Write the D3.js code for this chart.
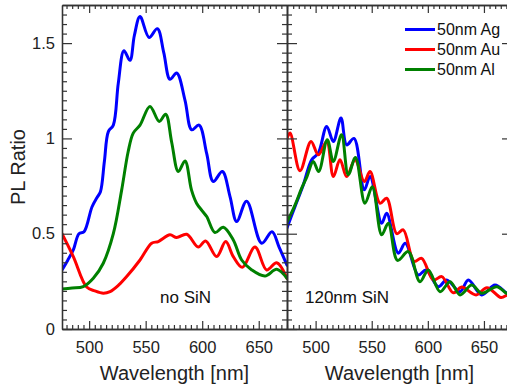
<!DOCTYPE html>
<html><head><meta charset="utf-8">
<script src="https://cdn.jsdelivr.net/npm/d3@7"></script>
<style>
body{margin:0;background:#fff;}
svg{display:block;font-family:"Liberation Sans",Arial,sans-serif;}
</style></head>
<body>
<svg id="chart" width="507" height="386"></svg>
<script>
// ---------- DATA ----------
const seriesNames = ["50nm Ag", "50nm Au", "50nm Al"];
const seriesColors = ["#0000ff", "#ff0000", "#008000"];
const panelLabels = ["no SiN", "120nm SiN"];
const xTickValues = [500, 550, 600, 650];
const yTickValues = [0, 0.5, 1, 1.5];
const yTickLabels = ["0", "0.5", "1", "1.5"];

// Panel 1: no SiN
const noSiN_Ag_wl = [476, 481, 486, 491, 495.5, 502.5, 507, 510, 513.5, 517, 521.4, 525.8, 530.8, 536.1, 540, 545, 553, 560.3, 566, 571.5, 577.4, 584.8, 590.7, 597.2, 604, 609.8, 617.8, 624.6, 630.5, 639.3, 652.6, 661.7, 668, 675];
const noSiN_Ag    = [0.31, 0.36, 0.415, 0.50, 0.51, 0.64, 0.69, 0.72, 0.88, 1.036, 1.07, 1.29, 1.46, 1.41, 1.54, 1.64, 1.53, 1.576, 1.45, 1.31, 1.343, 1.20, 1.045, 1.07, 0.92, 0.774, 0.826, 0.695, 0.564, 0.67, 0.45, 0.51, 0.43, 0.335];
const noSiN_Au_wl = [476, 486, 497.8, 505, 512.5, 518.5, 526, 533.2, 545, 555.3, 561.2, 571.5, 577.4, 586.3, 596.5, 603, 612.8, 620.8, 627.5, 635.5, 646.7, 657, 665.9, 675];
const noSiN_Au    = [0.50, 0.38, 0.22, 0.20, 0.188, 0.196, 0.23, 0.275, 0.362, 0.45, 0.459, 0.494, 0.48, 0.497, 0.43, 0.462, 0.38, 0.459, 0.38, 0.324, 0.43, 0.31, 0.348, 0.266];
const noSiN_Al_wl = [476, 485, 494.8, 503.7, 512.5, 521.4, 528.8, 534.5, 539, 545, 553.8, 562, 567.7, 573, 578.9, 584.8, 590.5, 595, 600, 604, 611.3, 618.7, 627.5, 634.9, 643.8, 655.5, 665.9, 675];
const noSiN_Al    = [0.21, 0.215, 0.222, 0.266, 0.345, 0.50, 0.73, 0.93, 1.028, 1.07, 1.168, 1.089, 1.127, 0.98, 0.826, 0.882, 0.73, 0.66, 0.62, 0.59, 0.506, 0.534, 0.467, 0.362, 0.31, 0.278, 0.313, 0.266];

// Panel 2: 120nm SiN
const SiN_Ag_wl = [474.5, 481.6, 489, 496.5, 502.4, 509.9, 515.8, 522.6, 527.7, 534.2, 543.4, 548.5, 558.9, 563.3, 573.7, 579.9, 591.5, 598.4, 609.3, 616.8, 628.7, 636.1, 648, 659.8, 670.3, 675];
const SiN_Ag    = [0.53, 0.642, 0.756, 0.888, 0.923, 1.063, 0.984, 1.107, 0.966, 1.0, 0.73, 0.80, 0.555, 0.607, 0.398, 0.45, 0.284, 0.31, 0.222, 0.257, 0.196, 0.257, 0.179, 0.231, 0.1875, 0.17];
const SiN_Au_wl = [474.5, 477.2, 486.1, 495.9, 502.4, 509.9, 515.8, 521.7, 527.7, 535.1, 543.4, 548.5, 557.4, 563.3, 572.3, 578.1, 587.7, 594.5, 604.9, 612.4, 622.7, 630, 643, 652.7, 665.2, 670.5, 675];
const SiN_Au    = [1.0, 1.028, 0.83, 0.984, 0.914, 0.984, 0.80, 0.888, 0.80, 0.888, 0.774, 0.826, 0.66, 0.686, 0.50, 0.52, 0.355, 0.371, 0.257, 0.275, 0.19, 0.22, 0.179, 0.217, 0.165, 0.178, 0.19];
const SiN_Al_wl = [474.5, 481.6, 487.6, 492.3, 497.9, 502.7, 510.4, 515.8, 523.1, 529.1, 535.5, 544, 550.5, 558.9, 564.8, 573, 582.6, 593, 600.4, 610.9, 619.8, 628.7, 639.1, 648, 661.4, 670.3, 675];
const SiN_Al    = [0.56, 0.65, 0.739, 0.80, 0.879, 0.826, 0.993, 0.879, 1.019, 0.809, 0.9, 0.66, 0.747, 0.494, 0.555, 0.36, 0.406, 0.248, 0.31, 0.196, 0.248, 0.179, 0.231, 0.1875, 0.222, 0.1875, 0.18];

// ---------- LAYOUT ----------
const svg = d3.select("#chart");
const plotTop = 5, plotBottom = 329;
const panels = [
  {x0: 62, x1: 287, domain: [476, 675], label: panelLabels[0], labelX: 160,
   series: [[noSiN_Ag_wl, noSiN_Ag], [noSiN_Au_wl, noSiN_Au], [noSiN_Al_wl, noSiN_Al]]},
  {x0: 287, x1: 512, domain: [474.5, 675], label: panelLabels[1], labelX: 305,
   series: [[SiN_Ag_wl, SiN_Ag], [SiN_Au_wl, SiN_Au], [SiN_Al_wl, SiN_Al]]}
];
const y = d3.scaleLinear().domain([0, 1.7]).range([plotBottom, plotTop]);
const axisColor = "#333";
const textColor = "#222";
const minorX = d3.range(480, 676, 5).filter(v => v % 50 !== 0);
const minorY = d3.range(0.05, 1.70, 0.05).filter(v => Math.abs(v * 2 - Math.round(v * 2)) > 1e-6);

function styleAxis(g) {
  g.selectAll("path").attr("stroke", axisColor).attr("stroke-width", 1.3);
  g.selectAll("line").attr("stroke", axisColor).attr("stroke-width", 1.2);
  g.selectAll("text").attr("fill", textColor).attr("font-size", 16.5)
    .attr("font-family", '"Liberation Sans", Arial, sans-serif');
}

panels.forEach((p, pi) => {
  const x = d3.scaleLinear().domain(p.domain).range([p.x0, p.x1]);
  const clipId = "clip" + pi;
  svg.append("clipPath").attr("id", clipId).append("rect")
    .attr("x", p.x0).attr("y", plotTop).attr("width", p.x1 - p.x0).attr("height", plotBottom - plotTop);

  const line = d3.line().x(d => x(d[0])).y(d => y(d[1])).curve(d3.curveCatmullRom.alpha(0.5));
  const gLines = svg.append("g").attr("clip-path", `url(#${clipId})`);
  p.series.forEach((s, si) => {
    const pts = s[0].map((w, i) => [w, s[1][i]]);
    gLines.append("path").datum(pts).attr("d", line)
      .attr("fill", "none").attr("stroke", seriesColors[si])
      .attr("stroke-width", 3).attr("stroke-linejoin", "round").attr("stroke-linecap", "round");
  });

  // bottom axis
  svg.append("g").attr("transform", `translate(0,${plotBottom})`)
    .call(d3.axisBottom(x).tickValues(xTickValues).tickSizeInner(-8).tickSizeOuter(0).tickPadding(12).tickFormat(d3.format("d")))
    .call(styleAxis);
  svg.append("g").attr("transform", `translate(0,${plotBottom})`)
    .call(d3.axisBottom(x).tickValues(minorX).tickSizeInner(-4).tickSizeOuter(0).tickFormat(""))
    .call(styleAxis);
  // top axis
  svg.append("g").attr("transform", `translate(0,${plotTop})`)
    .call(d3.axisTop(x).tickValues(xTickValues).tickSizeInner(-8).tickSizeOuter(0).tickFormat(""))
    .call(styleAxis);
  svg.append("g").attr("transform", `translate(0,${plotTop})`)
    .call(d3.axisTop(x).tickValues(minorX).tickSizeInner(-4).tickSizeOuter(0).tickFormat(""))
    .call(styleAxis);
  // left axis
  const left = d3.axisLeft(y).tickValues(yTickValues).tickSizeInner(-10).tickSizeOuter(0).tickPadding(7)
    .tickFormat((d, i) => pi === 0 ? yTickLabels[i] : "");
  svg.append("g").attr("transform", `translate(${p.x0},0)`).call(left).call(styleAxis);
  svg.append("g").attr("transform", `translate(${p.x0},0)`)
    .call(d3.axisLeft(y).tickValues(minorY).tickSizeInner(-5).tickSizeOuter(0).tickFormat(""))
    .call(styleAxis);
  // right axis
  svg.append("g").attr("transform", `translate(${p.x1},0)`)
    .call(d3.axisRight(y).tickValues(yTickValues).tickSizeInner(-10).tickSizeOuter(0).tickFormat(""))
    .call(styleAxis);
  svg.append("g").attr("transform", `translate(${p.x1},0)`)
    .call(d3.axisRight(y).tickValues(minorY).tickSizeInner(-5).tickSizeOuter(0).tickFormat(""))
    .call(styleAxis);

  // x-axis title
  svg.append("text").attr("x", (p.x0 + p.x1) / 2).attr("y", 380)
    .attr("text-anchor", "middle").attr("font-size", 20).attr("fill", textColor)
    .text("Wavelength [nm]");
  // panel label
  svg.append("text").attr("x", p.labelX).attr("y", 303)
    .attr("font-size", 17).attr("fill", "#111").text(p.label);
});

// y-axis title
svg.append("text").attr("transform", "translate(25,167) rotate(-90)")
  .attr("text-anchor", "middle").attr("font-size", 20).attr("fill", textColor).text("PL Ratio");

// legend
const legend = svg.append("g");
seriesNames.forEach((n, i) => {
  const ly = 29.5 + i * 20;
  legend.append("line").attr("x1", 405).attr("x2", 435).attr("y1", ly).attr("y2", ly)
    .attr("stroke", seriesColors[i]).attr("stroke-width", 3);
  legend.append("text").attr("x", 437).attr("y", ly).attr("dy", "0.35em")
    .attr("font-size", 16).attr("fill", "#111").text(n);
});
</script>
</body></html>
